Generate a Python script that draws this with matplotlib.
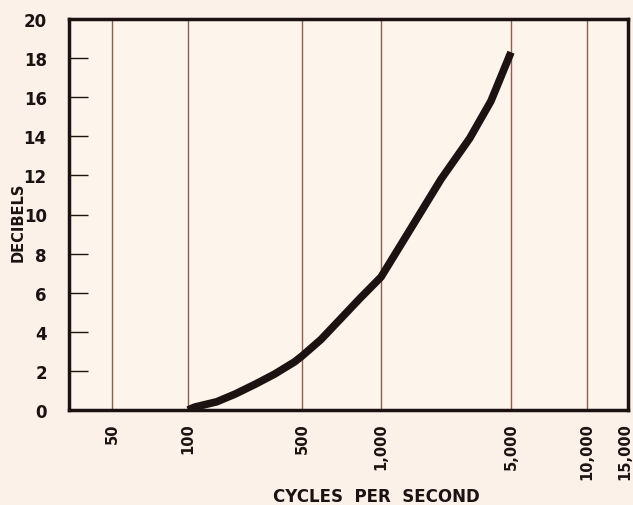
import numpy as np
import matplotlib
matplotlib.use("Agg")
import matplotlib.pyplot as plt
import matplotlib.transforms as mtransforms

# curve: frequency (cycles/s) vs boost (dB)
freq = [100, 110, 150, 195, 260, 340, 450, 500, 590, 700, 830, 1000,
        1250, 1450, 2100, 3000, 3900, 5000]
db = [0.0, 0.15, 0.42, 0.82, 1.33, 1.84, 2.46, 2.76, 3.6, 4.65, 5.7, 6.8,
      8.3, 9.3, 11.8, 13.9, 15.8, 18.3]

x_ticks = [50, 100, 500, 1000, 5000, 10000, 15000]
x_labels = ["50", "100", "500", "1,000", "5,000", "10,000", "15,000"]
y_ticks = list(range(0, 21, 2))

# the printed axis is not a true log scale, so map it piecewise
anchor_f = np.log10([34, 50, 100, 500, 1000, 5000, 10000, 15000])
anchor_p = np.array([0, 43, 119, 233, 312, 442, 518, 559], dtype=float)


def fwd(f):
    return np.interp(np.log10(np.clip(f, 1e-9, None)), anchor_f, anchor_p)


def inv(p):
    return 10 ** np.interp(p, anchor_p, anchor_f)


BG = "#fcf1e8"
INK = "#1c1212"
GRID = "#8c5e50"

fig = plt.figure(figsize=(6.33, 5.06), dpi=100, facecolor=BG)
ax = fig.add_axes([69 / 633, 1 - 411 / 506, 559 / 633, 391 / 506])
ax.set_facecolor("#fdf4ec")

ax.set_xscale("function", functions=(fwd, inv))
ax.set_xlim(34, 15000)
ax.set_ylim(0, 20)

for f in x_ticks:
    ax.axvline(f, color=GRID, lw=1.0, zorder=1)

ax.plot(freq, db, color=INK, lw=5.5, solid_capstyle="butt",
        solid_joinstyle="round", zorder=3)

ax.set_xticks(x_ticks)
ax.set_xticklabels(x_labels, rotation=90, fontsize=10.5, fontweight="bold", color=INK)
ax.xaxis.set_minor_locator(matplotlib.ticker.NullLocator())
ax.tick_params(axis="x", length=0, pad=9)
# nudge the last label so it stays on the page
last = ax.get_xticklabels()[-1]
last.set_transform(last.get_transform() +
                   mtransforms.ScaledTranslation(-3 / 100, 0, fig.dpi_scale_trans))

ax.set_yticks(y_ticks)
ax.set_yticklabels([str(v) for v in y_ticks], fontsize=12, fontweight="bold", color=INK)
ax.tick_params(axis="y", direction="in", length=14, width=1.0, color=INK, pad=16)

for s in ax.spines.values():
    s.set_linewidth(2.5)
    s.set_color(INK)

fig.text(18 / 633, 1 - 222 / 506, "DECIBELS", rotation=90, ha="center", va="center",
         fontsize=10.5, fontweight="bold", color=INK)
fig.text(376 / 633, 1 - 497 / 506, "CYCLES  PER  SECOND", ha="center", va="center",
         fontsize=12, fontweight="bold", color=INK)

fig.savefig("out.png", dpi=100, facecolor=BG)
